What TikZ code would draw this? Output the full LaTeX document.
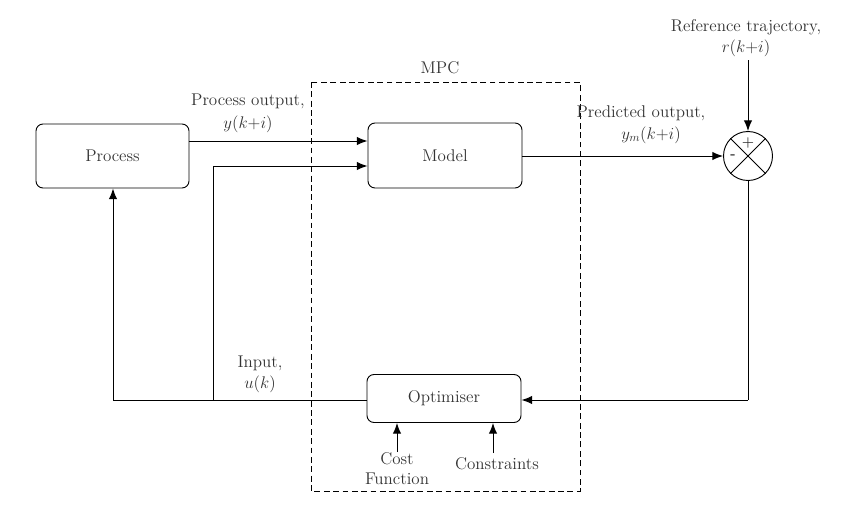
\documentclass[tikz,border=0pt]{standalone}
\usetikzlibrary{arrows.meta}
\begin{document}
\begin{tikzpicture}[x=0.3mm,y=-0.3mm,
  every node/.style={font=\fontsize{14.5}{16}\selectfont, text=black!80},
  blk/.style={draw, rounded corners=6pt, line width=0.8pt, inner sep=0pt},
  conn/.style={line width=0.85pt, -{Latex[length=9pt,width=7pt]}},
  wire/.style={line width=0.85pt},
  lbl/.style={align=center, inner sep=0pt}]
\useasboundingbox (0,0) rectangle (868,510);
% MPC dashed box
\draw[dashed, line width=0.6pt, dash pattern=on 5pt off 3pt] (311,82) rectangle (580,491);
\node[lbl] (mpc) at (440,68) {MPC};
% blocks
\node[blk, minimum width=153*0.3mm, minimum height=64*0.3mm] (proc) at (112.5,156) {Process};
\node[blk, minimum width=154*0.3mm, minimum height=65*0.3mm] (model) at (445,155.5) {Model};
\node[blk, minimum width=154*0.3mm, minimum height=48*0.3mm] (opt) at (444,398.5) {Optimiser};
% summing junction
\node[draw, circle, line width=0.8pt, minimum size=49*0.3mm, inner sep=0pt] (sum) at (748,156) {};
\draw[line width=0.7pt] (sum.45) -- (sum.225) (sum.135) -- (sum.315);
\node[font=\fontsize{12}{13}\selectfont\bfseries] (plus) at (748,143) {+};
\node[font=\fontsize{12}{13}\selectfont\bfseries] (minus) at (733,157) {-};
% reference
\node[lbl] (reflbl) at (746,27) {Reference trajectory,};
\node[lbl] (refmath) at (746,48) {$r(k{+}i)$};
\coordinate (reftop) at (748,60);
\draw[conn] (reftop) -- (sum.north);
% process output
\coordinate (po1) at (proc.east |- 0,141);
\draw[conn] (po1) -- (po1 -| model.west);
\node[lbl] (polbl) at (248,101) {Process output,};
\node[lbl] (pomath) at (248,124) {$y(k{+}i)$};
% predicted output
\draw[conn] (model.east |- sum.west) -- (sum.west);
\node[lbl] (predlbl) at (641,113) {Predicted output,};
\node[lbl] (predmath) at (651,135) {$y_m(k{+}i)$};
% feedback to optimiser
\coordinate (sb) at (748,400);
\draw[wire] (sum.south) -- (sb);
\draw[conn] (sb) -- (opt.east |- sb);
% input
\coordinate (j) at (213,400);
\coordinate (pl) at (113,400);
\draw[wire] (opt.west |- j) -- (pl);
\draw[conn] (pl) -- (proc.south -| pl);
\coordinate (jt) at (213,166);
\draw[wire] (j) -- (jt);
\draw[conn] (jt) -- (jt -| model.west);
\node[lbl] (inlbl) at (260,363) {Input,};
\node[lbl] (inmath) at (260,384) {$u(k)$};
% cost and constraints
\node[lbl] (cost) at (397,469) {Cost\\[1pt]Function};
\node[lbl] (cons) at (497,464) {Constraints};
\coordinate (c1) at (397,452);
\coordinate (c2) at (493,453);
\draw[conn] (c1) -- (c1 |- opt.south);
\draw[conn] (c2) -- (c2 |- opt.south);
\end{tikzpicture}
\end{document}
